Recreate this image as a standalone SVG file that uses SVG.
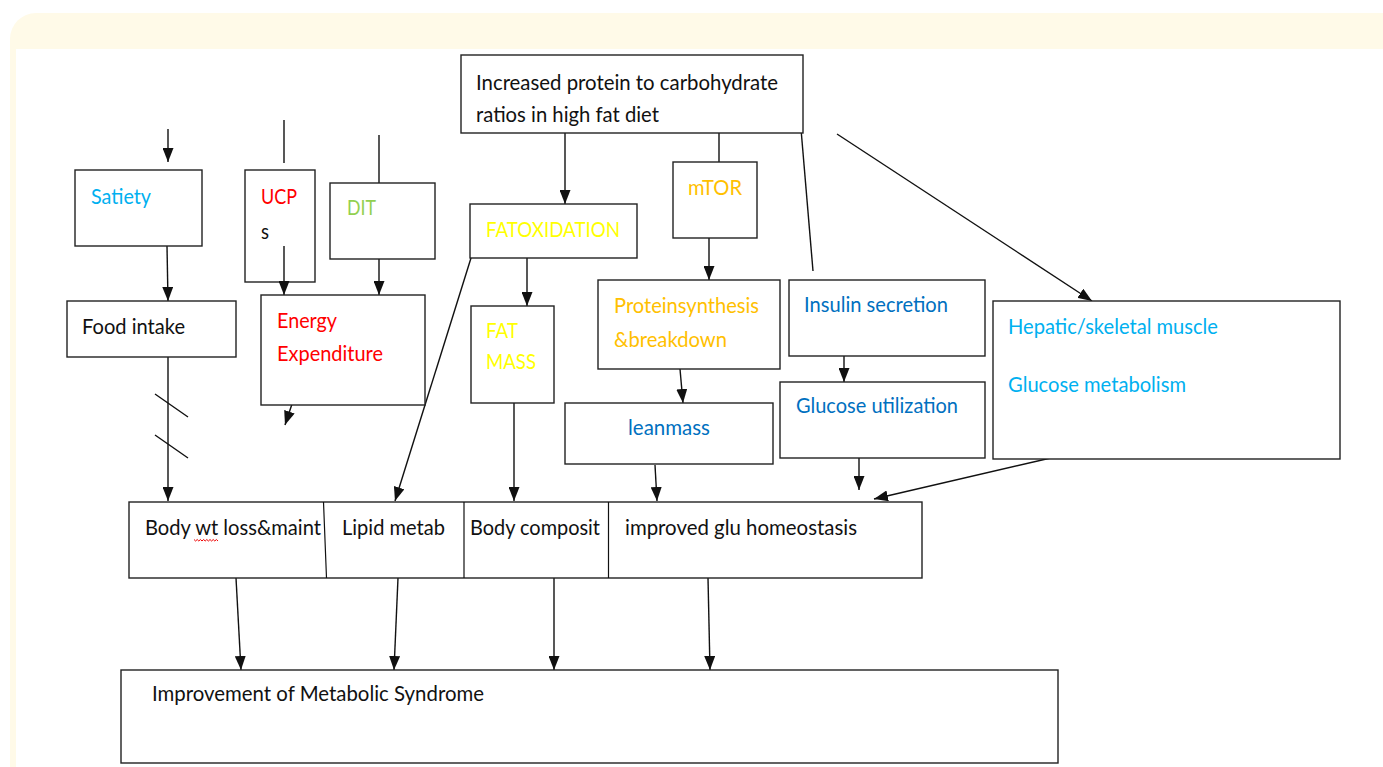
<svg xmlns="http://www.w3.org/2000/svg" width="1383" height="767" viewBox="0 0 1383 767">
<style>
.box{fill:#fff;stroke:#222;stroke-width:1.4}
.ln{fill:none;stroke:#111;stroke-width:1.4}
.ar{fill:none;stroke:#111;stroke-width:1.4;marker-end:url(#ah)}
text{font-family:Lato,"Open Sans",sans-serif;font-size:21px;fill:#111}
.sky{fill:#00b0f0}.red{fill:#ff0000}.grn{fill:#92d050}.yel{fill:#ffff00}.org{fill:#ffc000}.blu{fill:#0070c0}
</style>
<defs>
<marker id="ah" viewBox="0 0 14 11" refX="14" refY="5.5" markerWidth="14" markerHeight="11" markerUnits="userSpaceOnUse" orient="auto">
<path d="M0,0 L14,5.5 L0,11 Z" fill="#111"/>
</marker>
</defs>
<rect x="10" y="13" width="1400" height="780" rx="26" fill="#fffae8"/>
<rect x="16" y="49" width="1367" height="718" fill="#fff"/>

<g id="connectors">
<path class="ar" d="M168,129 L168,162"/>
<path class="ln" d="M284,120 L284,163"/>
<path class="ln" d="M379,135 L379,183"/>
<path class="ar" d="M565,133 L565,204"/>
<path class="ln" d="M719,133 L719,170"/>
<path class="ln" d="M801,129 L813,271"/>
<path class="ar" d="M837,134 L1092,301"/>
<path class="ar" d="M167,246 L168,301"/>
<path class="ar" d="M379,259 L379,295"/>
<path class="ar" d="M527,258 L527,306"/>
<path class="ar" d="M709,238 L709,280"/>
<path class="ar" d="M471,258 L395,501"/>
<path class="ar" d="M292,404 L285,425"/>
<path class="ar" d="M168,357 L168,501"/>
<path class="ln" d="M155,394 L188,417 M155,435 L188,458"/>
<path class="ar" d="M514,403 L514,501"/>
<path class="ar" d="M680,369 L683,403"/>
<path class="ar" d="M655,465 L657,501"/>
<path class="ar" d="M844,356 L844,382"/>
<path class="ar" d="M859,458 L859,490"/>
<path class="ar" d="M1055,457 L874,499"/>
<path class="ar" d="M236,578 L241,670"/>
<path class="ar" d="M398,578 L394,670"/>
<path class="ar" d="M554,578 L554,670"/>
<path class="ar" d="M708,578 L710,670"/>
</g>

<g id="n-top">
<rect class="box" x="461" y="55" width="342" height="78"/>
<text x="476" y="90" textLength="302" lengthAdjust="spacingAndGlyphs">Increased protein to carbohydrate</text>
<text x="476" y="122" textLength="183" lengthAdjust="spacingAndGlyphs">ratios in high fat diet</text>
</g>
<g id="n-satiety">
<rect class="box" x="75" y="170" width="127" height="76"/>
<text class="sky" x="91" y="204" textLength="60" lengthAdjust="spacingAndGlyphs">Satiety</text>
</g>
<g id="n-ucps">
<rect class="box" x="245" y="170" width="70" height="112"/>
<text class="red" x="261" y="204" textLength="36" lengthAdjust="spacingAndGlyphs">UCP</text>
<text x="261" y="239" textLength="8" lengthAdjust="spacingAndGlyphs">s</text>
<path class="ar" d="M284,246 L284,295"/>
</g>
<g id="n-dit">
<rect class="box" x="330" y="183" width="105" height="76"/>
<text class="grn" x="347" y="215" textLength="29" lengthAdjust="spacingAndGlyphs">DIT</text>
</g>
<g id="n-fatox">
<rect class="box" x="470" y="204" width="167" height="54"/>
<text class="yel" x="486" y="237" textLength="134" lengthAdjust="spacingAndGlyphs">FATOXIDATION</text>
</g>
<g id="n-mtor">
<rect class="box" x="673" y="162" width="84" height="76"/>
<text class="org" x="688" y="195" textLength="54" lengthAdjust="spacingAndGlyphs">mTOR</text>
</g>
<g id="n-food">
<rect class="box" x="67" y="301" width="169" height="56"/>
<text x="82" y="334" textLength="103" lengthAdjust="spacingAndGlyphs">Food intake</text>
</g>
<g id="n-energy">
<rect class="box" x="261" y="295" width="164" height="110"/>
<text class="red" x="277" y="328" textLength="60" lengthAdjust="spacingAndGlyphs">Energy</text>
<text class="red" x="277" y="361" textLength="106" lengthAdjust="spacingAndGlyphs">Expenditure</text>
</g>
<g id="n-fatmass">
<rect class="box" x="471" y="306" width="83" height="97"/>
<text class="yel" x="486" y="338" textLength="32" lengthAdjust="spacingAndGlyphs">FAT</text>
<text class="yel" x="486" y="369" textLength="50" lengthAdjust="spacingAndGlyphs">MASS</text>
</g>
<g id="n-protein">
<rect class="box" x="598" y="280" width="182" height="89"/>
<text class="org" x="614" y="313" textLength="145" lengthAdjust="spacingAndGlyphs">Proteinsynthesis</text>
<text class="org" x="614" y="347" textLength="113" lengthAdjust="spacingAndGlyphs">&amp;breakdown</text>
</g>
<g id="n-insulin">
<rect class="box" x="789" y="280" width="196" height="76"/>
<text class="blu" x="804" y="312" textLength="144" lengthAdjust="spacingAndGlyphs">Insulin secretion</text>
</g>
<g id="n-hepatic">
<rect class="box" x="993" y="301" width="347" height="158"/>
<text class="sky" x="1008" y="334" textLength="210" lengthAdjust="spacingAndGlyphs">Hepatic/skeletal muscle</text>
<text class="sky" x="1008" y="392" textLength="178" lengthAdjust="spacingAndGlyphs">Glucose metabolism</text>
</g>
<g id="n-lean">
<rect class="box" x="565" y="403" width="208" height="61"/>
<text class="blu" x="628" y="435" textLength="82" lengthAdjust="spacingAndGlyphs">leanmass</text>
</g>
<g id="n-glucose">
<rect class="box" x="780" y="382" width="205" height="76"/>
<text class="blu" x="796" y="413" textLength="162" lengthAdjust="spacingAndGlyphs">Glucose utilization</text>
</g>
<g id="n-outcomes">
<rect class="box" x="129" y="502" width="793" height="76"/>
<path class="ln" d="M323.5,502 L326.5,578 M464,502 L464,578 M608.5,502 L608.5,578" style="stroke-width:1.2"/>
<g id="n-bodywt">
<text x="145" y="535" textLength="176" lengthAdjust="spacingAndGlyphs">Body wt loss&amp;maint</text>
<path d="M194,539.5 l1.6,1.5 l1.6,-1.5 l1.6,1.5 l1.6,-1.5 l1.6,1.5 l1.6,-1.5 l1.6,1.5 l1.6,-1.5 l1.6,1.5 l1.6,-1.5 l1.6,1.5 l1.6,-1.5 l1.6,1.5 l1.6,-1.5 l1.6,1.5" fill="none" stroke="#e00" stroke-width="1"/>
</g>
<g id="n-lipid"><text x="342" y="535" textLength="103" lengthAdjust="spacingAndGlyphs">Lipid metab</text></g>
<g id="n-bodycomp"><text x="470" y="535" textLength="130" lengthAdjust="spacingAndGlyphs">Body composit</text></g>
<g id="n-gluhomeo"><text x="625" y="535" textLength="232" lengthAdjust="spacingAndGlyphs">improved glu homeostasis</text></g>
</g>
<g id="n-improve">
<rect class="box" x="121" y="670" width="937" height="93"/>
<text x="152" y="701" textLength="332" lengthAdjust="spacingAndGlyphs">Improvement of Metabolic Syndrome</text>
</g>
</svg>
